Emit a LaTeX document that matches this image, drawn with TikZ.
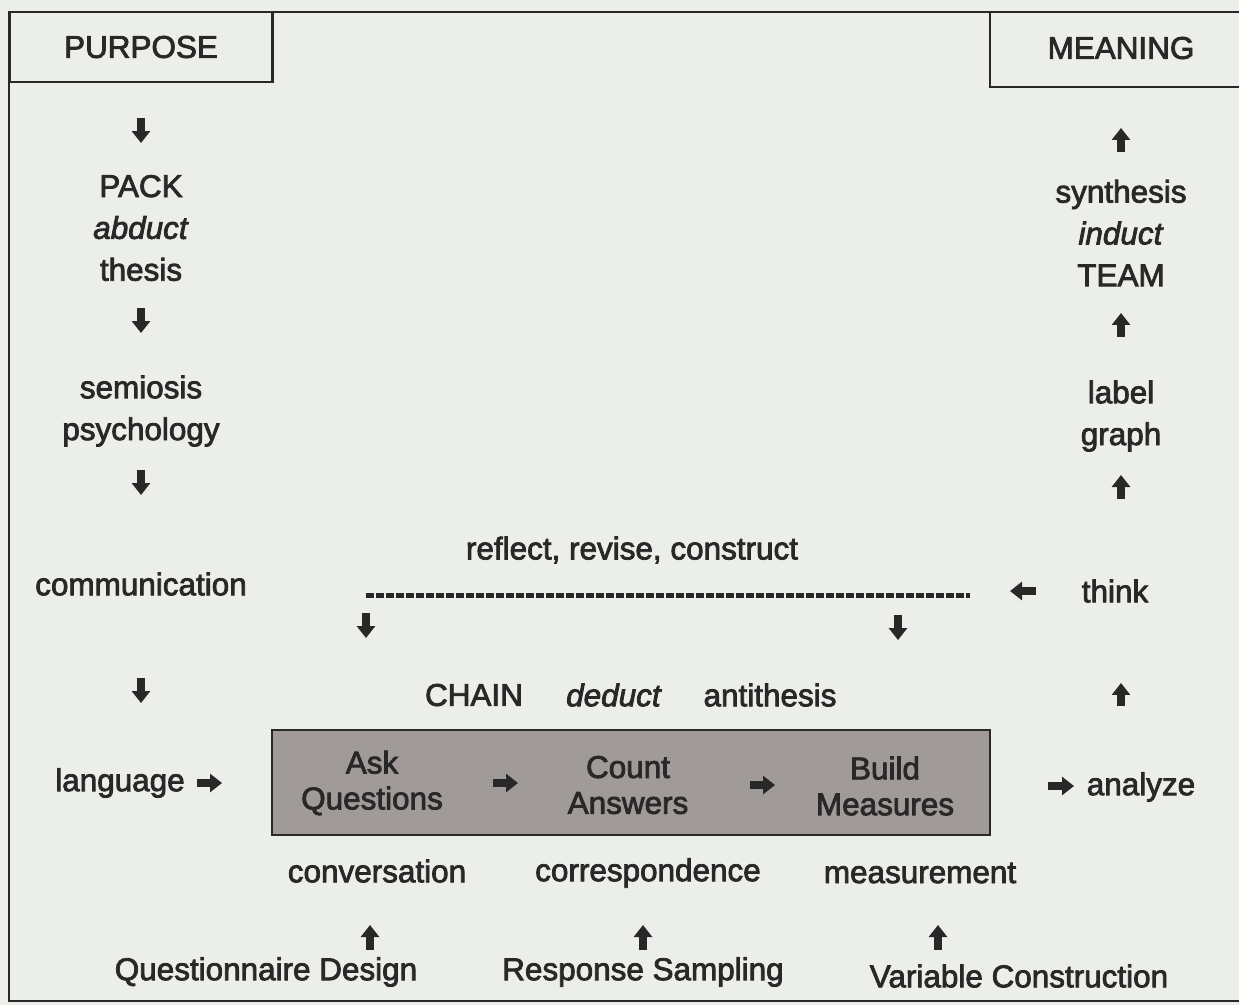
\documentclass[tikz,border=0pt]{standalone}
\usepackage{fontspec}
\setmainfont[FakeBold=2.5]{Liberation Sans}
\usetikzlibrary{arrows.meta}
\definecolor{paper}{RGB}{236,239,233}
\definecolor{ink}{RGB}{40,40,40}
\definecolor{boxgray}{RGB}{160,154,152}
\tikzset{
  txt/.style={text=ink, font=\fontsize{17.9}{23.8}\selectfont, align=center, inner sep=0pt},
  boxtxt/.style={txt, font=\fontsize{17.9}{20.4}\selectfont},
  blk/.style={draw=ink, line width=0.16cm, -{Triangle[width=0.36cm,length=0.24cm]}},
  frame/.style={draw=ink, line width=1.5pt},
}
\begin{document}
\begin{tikzpicture}[x=0.02cm, y=-0.02cm]
        \fill[paper] (0,0) rectangle (1239,1005);
        \useasboundingbox (0,0) rectangle (1239,1005);
        % Outer frame and corner boxes
        \draw[frame] (1239,12) -- (9,12) -- (9,1001) -- (1239,1001);
        \node (purpose) [txt, frame, minimum width=5.26cm, minimum height=1.4cm] at (141,47) {PURPOSE};
        \draw[frame] (990,12) -- (990,87) -- (1239,87);
        \node (meaning) [txt] at (1121,48) {MEANING};

        % Left column
        \node (abd) [txt] at (141,228) {PACK\\\textit{abduct}\\thesis};
        \node (sem) [txt] at (141,411) {semiosis\\psychology};
        \node (comm) [txt] at (141,584) {communication};
        \node (lang) [txt] at (120,783) {language};

        % Right column
        \node (ind) [txt] at (1121,233) {synthesis\\\textit{induct}\\TEAM};
        \node (lblgraph) [txt] at (1121,416) {label\\graph};
        \node (think) [txt] at (1115,591) {think};
        \node (analyze) [txt] at (1141,787) {analyze};

        % Middle
        \node (refl) [txt] at (632,550) {reflect, revise, construct};
        \coordinate (dl) at (366,595);
        \coordinate (dm) at (898,595);
        \coordinate (dr) at (970,595);
        \node (chain) [txt] at (474,695) {CHAIN};
        \node (ded) [txt] at (614,695) {\textit{deduct}};
        \node (anti) [txt] at (770,695) {antithesis};

        % Shaded chain box
        \node (box) [draw=ink, line width=1.6pt, fill=boxgray, minimum width=14.36cm, minimum height=2.1cm, inner sep=0pt] at (631,782.5) {};
        \node (ask) [boxtxt] at (372,783) {Ask\\Questions};
        \node (count) [boxtxt] at (628,785) {Count\\Answers};
        \node (build) [boxtxt] at (885,786) {Build\\Measures};

        % Bottom rows
        \node (conv) [txt] at (377,871) {conversation};
        \node (corr) [txt] at (648,873) {correspondence};
        \node (meas) [txt] at (920,873) {measurement};
        \node (qd) [txt] at (266,972) {Questionnaire Design};
        \node (rs) [txt] at (643,972) {Response Sampling};
        \node (vc) [txt] at (1019,976) {Variable Construction};
        \coordinate (qdup) at ([xshift=-0.14cm]conv.center);
        \coordinate (vcup) at ([xshift=0.36cm]meas.center);

        % Dashed feedback line
        \draw[ink, line width=0.1cm, dash pattern=on 0.16cm off 0.04cm] (dl) -- (dr);

        % Arrows, left column
        \draw[blk, shorten <=1.42cm, shorten >=1.70cm] (purpose.center) -- (abd.center);
        \draw[blk, shorten <=1.60cm, shorten >=1.56cm] (abd.center) -- (sem.center);
        \draw[blk, shorten <=1.18cm, shorten >=1.78cm] (sem.center) -- (comm.center);
        \draw[blk, shorten <=1.88cm, shorten >=1.60cm] (comm.center) -- (comm.center |- lang.center);
        \draw[blk, shorten <=1.54cm, shorten >=3.00cm] (lang.center) -- (ask.center);

        % Arrows, chain box
        \draw[blk, shorten <=2.42cm, shorten >=2.20cm] (ask.center) -- (ask.center -| count.center);
        \draw[blk, shorten <=2.44cm, shorten >=2.20cm] (count.center) -- (count.center -| build.center);
        \draw[blk, shorten <=3.26cm, shorten >=1.34cm] (build.center) -- (build.center -| analyze.center);

        % Arrows, right column
        \draw[blk, shorten <=1.62cm, shorten >=1.84cm] (meaning.center |- analyze.center) -- (meaning.center |- think.center);
        \draw[blk, shorten <=1.84cm, shorten >=1.18cm] (meaning.center |- think.center) -- (lblgraph.center);
        \draw[blk, shorten <=1.58cm, shorten >=1.60cm] (lblgraph.center) -- (ind.center);
        \draw[blk, shorten <=1.62cm, shorten >=1.60cm] (ind.center) -- (meaning.center);

        % Arrows, feedback
        \draw[blk, shorten <=1.58cm, shorten >=0.80cm] (think.center) -- (think.center -| dr);
        \draw[blk, shorten <=0.36cm, shorten >=1.14cm] (dl) -- (dl |- chain.center);
        \draw[blk, shorten <=0.40cm, shorten >=1.10cm] (dm) -- (dm |- chain.center);

        % Arrows, bottom row
        \draw[blk, shorten <=0.44cm, shorten >=1.08cm] (qdup |- qd.center) -- (qdup);
        \draw[blk, shorten <=0.44cm, shorten >=1.04cm] (rs.center) -- (rs.center |- corr.center);
        \draw[blk, shorten <=0.52cm, shorten >=1.04cm] (vcup |- vc.center) -- (vcup);
\end{tikzpicture}
\end{document}
